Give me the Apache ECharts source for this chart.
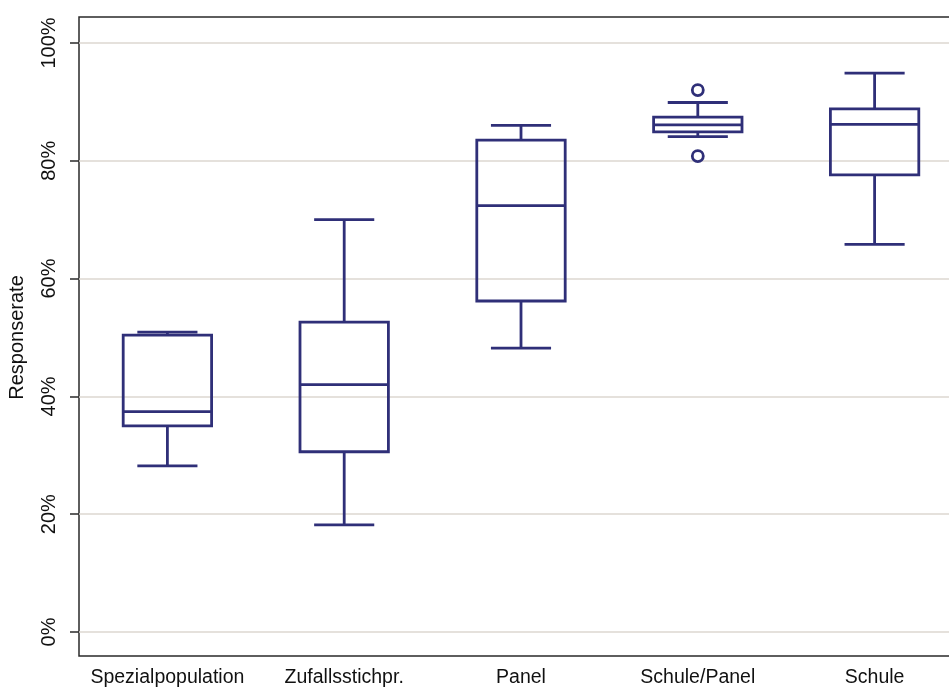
<!DOCTYPE html>
<html>
<head>
<meta charset="utf-8">
<script src="https://cdn.jsdelivr.net/npm/echarts@6/dist/echarts.min.js"></script>
<style>
html,body{margin:0;padding:0;background:#fff;overflow:hidden;}
#chart{width:949px;height:696px;}
</style>
</head>
<body>
<div id="chart"></div>
<script>
const categories = ['Spezialpopulation', 'Zufallsstichpr.', 'Panel', 'Schule/Panel', 'Schule'];
const minVals = [28.2, 18.2, 48.2, 84.1, 65.8];
const q1Vals  = [35.0, 30.6, 56.2, 84.9, 77.6];
const medVals = [37.4, 42.0, 72.4, 86.1, 86.2];
const q3Vals  = [50.4, 52.6, 83.5, 87.4, 88.8];
const maxVals = [50.9, 70.0, 86.0, 89.9, 94.9];
const outlierCats = [3, 3];
const outlierVals = [92.0, 80.8];
const yMin = 0, yMax = 100, yStep = 20;

const NAVY = '#2f2f78';
const LW = 2.8;

const boxData = categories.map((c, i) => [i, minVals[i], q1Vals[i], medVals[i], q3Vals[i], maxVals[i]]);
const outlierData = outlierCats.map((c, i) => [c, outlierVals[i]]);

function renderBox(params, api) {
  const idx = api.value(0);
  const mn = api.value(1), q1 = api.value(2), md = api.value(3), q3 = api.value(4), mx = api.value(5);
  const cx = api.coord([idx, 0])[0];
  const band = api.size([1, 0])[0];
  const bw = band * 0.5;
  const cw = band * 0.34;
  const py = v => api.coord([idx, v])[1];
  const st = {stroke: NAVY, lineWidth: LW, fill: null};
  const line = (x1, y1, x2, y2) => ({type: 'line', shape: {x1, y1, x2, y2}, style: st});
  return {
    type: 'group',
    children: [
      {type: 'rect', shape: {x: cx - bw / 2, y: py(q3), width: bw, height: py(q1) - py(q3)}, style: {stroke: NAVY, lineWidth: LW, fill: 'rgba(0,0,0,0)'}},
      line(cx - bw / 2, py(md), cx + bw / 2, py(md)),
      line(cx, py(q3), cx, py(mx)),
      line(cx, py(q1), cx, py(mn)),
      line(cx - cw / 2, py(mx), cx + cw / 2, py(mx)),
      line(cx - cw / 2, py(mn), cx + cw / 2, py(mn))
    ]
  };
}

const chart = echarts.init(document.getElementById('chart'), null, {renderer: 'canvas'});
chart.setOption({
  backgroundColor: '#ffffff',
  animation: false,
  grid: [
    {left: 79, width: 884, top: 43, bottom: 64, containLabel: false, outerBoundsMode: 'none'},
    {left: 79, width: 884, top: 17, bottom: 40, outerBoundsMode: 'none', show: true, borderColor: '#2a2a2a', borderWidth: 1.5, backgroundColor: 'rgba(0,0,0,0)'}
  ],
  xAxis: [
    {
      type: 'category', gridIndex: 0, data: categories,
      axisLine: {show: false}, axisTick: {show: false}, splitLine: {show: false},
      axisLabel: {margin: 36, color: '#111', fontFamily: '"Liberation Sans", Arial, sans-serif', fontSize: 19.5, interval: 0}
    },
    {type: 'category', gridIndex: 1, data: categories, show: false}
  ],
  yAxis: [
    {
      type: 'value', gridIndex: 0, min: yMin, max: yMax, interval: yStep,
      name: 'Responserate', nameLocation: 'middle', nameRotate: 90, nameGap: 52,
      nameTextStyle: {color: '#111', fontFamily: '"Liberation Sans", Arial, sans-serif', fontSize: 20},
      axisLine: {show: false},
      axisTick: {show: true, length: 9, lineStyle: {color: '#2a2a2a', width: 1.5}},
      axisLabel: {rotate: 90, margin: 20, formatter: '{value}%', color: '#111', fontFamily: '"Liberation Sans", Arial, sans-serif', fontSize: 20},
      splitLine: {show: true, lineStyle: {color: '#dcd7d1', width: 1.5}}
    },
    {type: 'value', gridIndex: 1, show: false, min: 0, max: 1}
  ],
  series: [
    {
      type: 'custom', xAxisIndex: 0, yAxisIndex: 0,
      renderItem: renderBox, data: boxData,
      encode: {x: 0, y: [1, 2, 3, 4, 5]}, z: 3
    },
    {
      type: 'scatter', xAxisIndex: 0, yAxisIndex: 0, data: outlierData,
      symbol: 'circle', symbolSize: 11,
      itemStyle: {color: '#ffffff', borderColor: NAVY, borderWidth: LW, opacity: 1}, z: 4
    }
  ]
});
</script>
</body>
</html>
